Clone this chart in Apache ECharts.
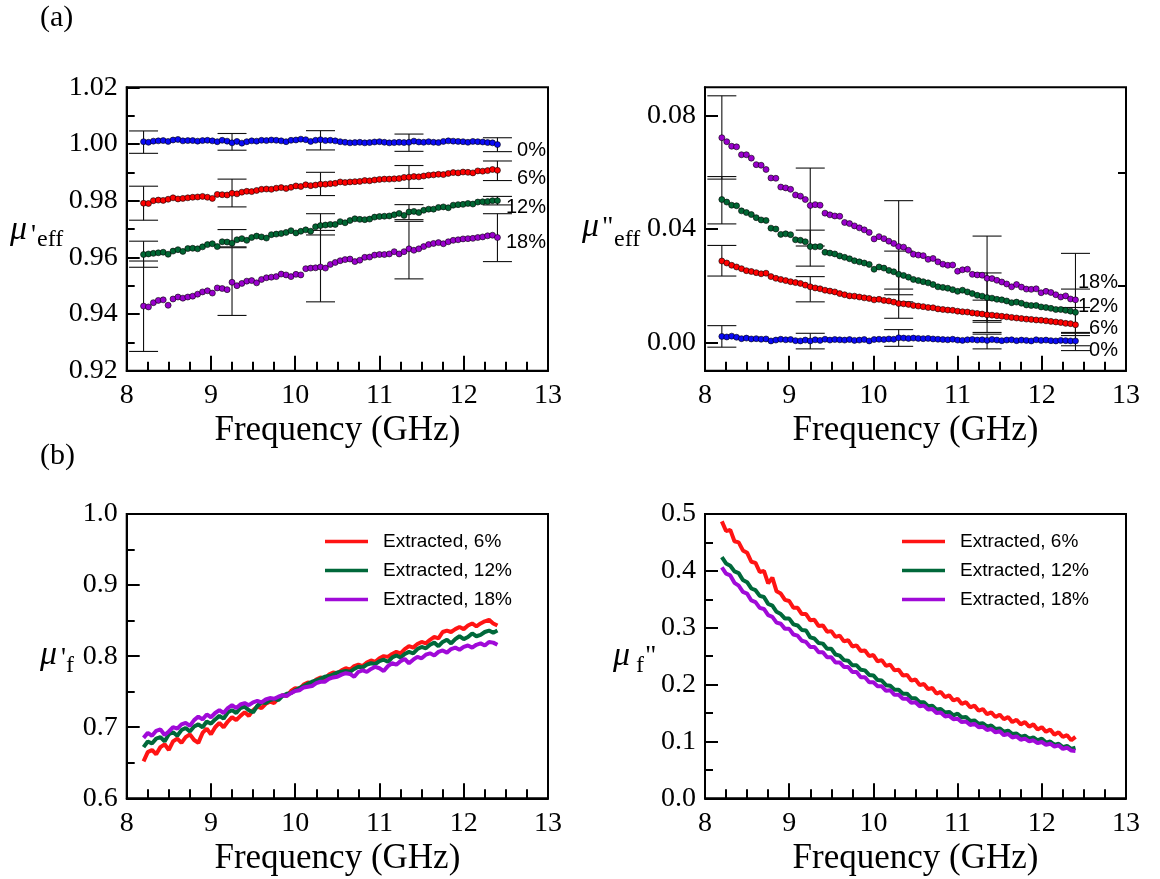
<!DOCTYPE html>
<html>
<head>
<meta charset="utf-8">
<script src="https://cdn.jsdelivr.net/npm/echarts@6/dist/echarts.min.js"></script>
<style>
html, body { margin: 0; padding: 0; background: #fff; }
#grafica { width: 1160px; height: 879px; }
</style>
</head>
<body>
<div id="grafica"></div>
<script>
// frecuencias de muestreo (GHz)
var freqTop = Array.from({length: 73}, function (_, i) { return 8.2 + i * 4.2 / 72 })
var freqBottom = Array.from({length: 85}, function (_, i) { return 8.2 + i * 0.05 })
var errFreq = [8.2, 9.25, 10.3, 11.35, 12.4]

// (a) izquierda: mu' efectiva
var muTL0 = [
  1.0008, 1.0006, 1.0010, 1.0011, 1.0012, 1.0009, 1.0014, 1.0016, 1.0011, 1.0012, 1.0012, 1.0010, 1.0012, 1.0013, 1.0011, 1.0008, 1.0013, 1.0010,
  1.0004, 1.0009, 1.0003, 1.0008, 1.0011, 1.0010, 1.0013, 1.0012, 1.0014, 1.0013, 1.0011, 1.0008, 1.0013, 1.0014, 1.0017, 1.0015, 1.0009, 1.0013,
  1.0015, 1.0012, 1.0013, 1.0011, 1.0008, 1.0006, 1.0004, 1.0005, 1.0006, 1.0004, 1.0005, 1.0007, 1.0008, 1.0006, 1.0004, 1.0005, 1.0006, 1.0005,
  1.0006, 1.0010, 1.0007, 1.0006, 1.0008, 1.0006, 1.0005, 1.0009, 1.0011, 1.0010, 1.0009, 1.0008, 1.0006, 1.0009, 1.0008, 1.0007, 1.0005, 1.0004, 0.9998]
var muTL6 = [
  0.9791, 0.9790, 0.9800, 0.9802, 0.9801, 0.9805, 0.9810, 0.9806, 0.9808, 0.9810, 0.9812, 0.9813, 0.9815, 0.9812, 0.9808, 0.9822, 0.9821, 0.9820,
  0.9826, 0.9824, 0.9830, 0.9833, 0.9832, 0.9836, 0.9840, 0.9841, 0.9840, 0.9844, 0.9846, 0.9843, 0.9847, 0.9852, 0.9850, 0.9856, 0.9853, 0.9855,
  0.9858, 0.9858, 0.9860, 0.9861, 0.9866, 0.9864, 0.9866, 0.9867, 0.9868, 0.9871, 0.9870, 0.9873, 0.9875, 0.9876, 0.9876, 0.9877, 0.9878, 0.9882,
  0.9883, 0.9885, 0.9884, 0.9887, 0.9890, 0.9891, 0.9893, 0.9892, 0.9896, 0.9899, 0.9898, 0.9901, 0.9900, 0.9898, 0.9905, 0.9904, 0.9906, 0.9910, 0.9907]
var muTL12 = [
  0.9610, 0.9612, 0.9614, 0.9616, 0.9618, 0.9611, 0.9622, 0.9627, 0.9621, 0.9631, 0.9632, 0.9630, 0.9637, 0.9645, 0.9648, 0.9638, 0.9655, 0.9654,
  0.9650, 0.9662, 0.9666, 0.9660, 0.9670, 0.9675, 0.9672, 0.9668, 0.9680, 0.9682, 0.9684, 0.9688, 0.9694, 0.9686, 0.9692, 0.9697, 0.9692, 0.9708,
  0.9712, 0.9714, 0.9716, 0.9716, 0.9726, 0.9722, 0.9730, 0.9736, 0.9734, 0.9733, 0.9735, 0.9742, 0.9744, 0.9745, 0.9746, 0.9750, 0.9755, 0.9748,
  0.9760, 0.9762, 0.9758, 0.9766, 0.9770, 0.9770, 0.9776, 0.9778, 0.9775, 0.9784, 0.9786, 0.9787, 0.9790, 0.9788, 0.9795, 0.9796, 0.9797, 0.9800, 0.9800]
var muTL18 = [
  0.9428, 0.9425, 0.9440, 0.9448, 0.9450, 0.9431, 0.9453, 0.9460, 0.9456, 0.9460, 0.9463, 0.9470, 0.9478, 0.9482, 0.9474, 0.9492, 0.9490, 0.9486,
  0.9512, 0.9500, 0.9508, 0.9516, 0.9518, 0.9510, 0.9522, 0.9528, 0.9530, 0.9532, 0.9541, 0.9538, 0.9532, 0.9540, 0.9538, 0.9560, 0.9562, 0.9563,
  0.9566, 0.9562, 0.9575, 0.9582, 0.9588, 0.9592, 0.9594, 0.9585, 0.9590, 0.9600, 0.9601, 0.9608, 0.9610, 0.9610, 0.9612, 0.9620, 0.9612, 0.9620,
  0.9630, 0.9625, 0.9630, 0.9638, 0.9645, 0.9649, 0.9652, 0.9648, 0.9655, 0.9660, 0.9662, 0.9665, 0.9666, 0.9667, 0.9670, 0.9672, 0.9676, 0.9678, 0.9670]
// barras de error [bajo, alto] en errFreq
var errTL0 = [[0.9967, 1.0046], [0.9978, 1.0037], [0.9979, 1.0047], [0.9974, 1.0035], [0.9973, 1.0022]]
var errTL6 = [[0.9731, 0.9851], [0.9778, 0.9876], [0.9818, 0.9900], [0.9843, 0.9924], [0.9871, 0.9940]]
var errTL12 = [[0.9565, 0.9657], [0.9637, 0.9698], [0.9679, 0.9754], [0.9733, 0.9786], [0.9785, 0.9815]]
var errTL18 = [[0.9268, 0.9587], [0.9395, 0.9634], [0.9443, 0.9695], [0.9524, 0.9727], [0.9585, 0.9754]]

// (a) derecha: mu'' efectiva
var muTR0 = [0.0021, 0.0019, 0.0022, 0.0018, 0.0013, 0.0015, 0.0012, 0.0013, 0.0011, 0.0012,
  0.0005, 0.0008, 0.0011, 0.0009, 0.0010, 0.0006, 0.0005, 0.0008, 0.0005, 0.0009,
  0.0007, 0.0011, 0.0008, 0.0010, 0.0009, 0.0008, 0.0010, 0.0007, 0.0008, 0.0010,
  0.0005, 0.0010, 0.0011, 0.0010, 0.0012, 0.0011, 0.0016, 0.0015, 0.0014, 0.0015,
  0.0014, 0.0013, 0.0014, 0.0012, 0.0011, 0.0010, 0.0009, 0.0011, 0.0008, 0.0007,
  0.0009, 0.0010, 0.0008, 0.0009, 0.0007, 0.0010, 0.0008, 0.0006, 0.0008, 0.0009,
  0.0006, 0.0008, 0.0007, 0.0005, 0.0009, 0.0007, 0.0008, 0.0006, 0.0005, 0.0007,
  0.0006, 0.0005, 0.0005]
var muTR6 = [0.0287, 0.0280, 0.0272, 0.0266, 0.0260, 0.0253, 0.0250, 0.0246, 0.0242, 0.0244,
  0.0232, 0.0226, 0.0222, 0.0218, 0.0214, 0.0211, 0.0208, 0.0202, 0.0196, 0.0192,
  0.0189, 0.0184, 0.0181, 0.0178, 0.0172, 0.0168, 0.0164, 0.0163, 0.0160, 0.0157,
  0.0155, 0.0150, 0.0152, 0.0148, 0.0146, 0.0142, 0.0137, 0.0136, 0.0134, 0.0130,
  0.0128, 0.0126, 0.0123, 0.0122, 0.0118, 0.0116, 0.0114, 0.0113, 0.0110, 0.0108,
  0.0107, 0.0104, 0.0102, 0.0100, 0.0097, 0.0096, 0.0094, 0.0092, 0.0090, 0.0088,
  0.0086, 0.0084, 0.0082, 0.0081, 0.0079, 0.0078, 0.0076, 0.0074, 0.0072, 0.0070,
  0.0067, 0.0066, 0.0062]
var muTR12 = [0.0504, 0.0495, 0.0484, 0.0482, 0.0464, 0.0458, 0.0451, 0.0440, 0.0432, 0.0430,
  0.0403, 0.0400, 0.0381, 0.0383, 0.0380, 0.0362, 0.0360, 0.0355, 0.0338, 0.0337,
  0.0338, 0.0318, 0.0315, 0.0312, 0.0305, 0.0300, 0.0295, 0.0288, 0.0284, 0.0280,
  0.0275, 0.0258, 0.0266, 0.0262, 0.0254, 0.0249, 0.0240, 0.0236, 0.0230, 0.0222,
  0.0218, 0.0214, 0.0210, 0.0204, 0.0196, 0.0194, 0.0191, 0.0186, 0.0180, 0.0184,
  0.0178, 0.0172, 0.0166, 0.0163, 0.0158, 0.0156, 0.0152, 0.0150, 0.0146, 0.0140,
  0.0142, 0.0138, 0.0132, 0.0130, 0.0130, 0.0125, 0.0123, 0.0120, 0.0116, 0.0116,
  0.0113, 0.0110, 0.0106]
var muTR18 = [0.0722, 0.0708, 0.0692, 0.0690, 0.0662, 0.0662, 0.0650, 0.0627, 0.0625, 0.0610,
  0.0580, 0.0579, 0.0548, 0.0545, 0.0540, 0.0520, 0.0516, 0.0504, 0.0483, 0.0486,
  0.0484, 0.0456, 0.0450, 0.0446, 0.0445, 0.0423, 0.0419, 0.0411, 0.0404, 0.0397,
  0.0388, 0.0365, 0.0373, 0.0366, 0.0357, 0.0349, 0.0338, 0.0336, 0.0325, 0.0311,
  0.0308, 0.0306, 0.0293, 0.0296, 0.0284, 0.0276, 0.0272, 0.0273, 0.0251, 0.0256,
  0.0258, 0.0240, 0.0238, 0.0237, 0.0226, 0.0225, 0.0219, 0.0213, 0.0206, 0.0196,
  0.0204, 0.0195, 0.0188, 0.0187, 0.0189, 0.0175, 0.0180, 0.0176, 0.0168, 0.0160,
  0.0164, 0.0153, 0.0150]
var errTR0 = [[-0.0017, 0.0059], [-0.0023, 0.0032], [-0.0014, 0.0045], [-0.0023, 0.0029], [-0.0029, 0.0032]]
var errTR6 = [[0.0234, 0.0342], [0.0143, 0.0232], [0.0085, 0.0188], [0.0035, 0.0149], [0.0024, 0.0123]]
var errTR12 = [[0.0418, 0.0585], [0.0269, 0.0396], [0.0143, 0.0322], [0.0071, 0.0245], [0.0035, 0.0188]]
var errTR18 = [[0.0576, 0.0870], [0.0340, 0.0615], [0.0168, 0.0500], [0.0077, 0.0375], [-0.0012, 0.0314]]

// (b) izquierda: mu' extraida
var muFL6 = [0.652, 0.665, 0.668, 0.662, 0.672, 0.676, 0.668, 0.680, 0.684, 0.678,
  0.686, 0.690, 0.682, 0.678, 0.692, 0.698, 0.690, 0.700, 0.706, 0.700,
  0.708, 0.714, 0.710, 0.716, 0.721, 0.716, 0.724, 0.729, 0.727, 0.733,
  0.736, 0.734, 0.741, 0.745, 0.744, 0.751, 0.755, 0.754, 0.760, 0.763,
  0.762, 0.767, 0.770, 0.768, 0.774, 0.777, 0.776, 0.780, 0.783, 0.781,
  0.786, 0.788, 0.786, 0.791, 0.794, 0.792, 0.797, 0.800, 0.799, 0.803,
  0.806, 0.804, 0.810, 0.814, 0.812, 0.817, 0.820, 0.818, 0.823, 0.827,
  0.825, 0.834, 0.836, 0.834, 0.838, 0.841, 0.838, 0.843, 0.846, 0.842,
  0.846, 0.849, 0.851, 0.846, 0.843]
var muFL12 = [0.672, 0.680, 0.677, 0.684, 0.686, 0.680, 0.690, 0.693, 0.688, 0.696,
  0.699, 0.694, 0.701, 0.704, 0.700, 0.708, 0.705, 0.711, 0.716, 0.712,
  0.721, 0.724, 0.720, 0.727, 0.729, 0.724, 0.721, 0.730, 0.735, 0.734,
  0.738, 0.740, 0.738, 0.744, 0.747, 0.748, 0.752, 0.755, 0.758, 0.761,
  0.764, 0.766, 0.768, 0.771, 0.772, 0.774, 0.777, 0.778, 0.779, 0.778,
  0.782, 0.785, 0.784, 0.788, 0.790, 0.789, 0.793, 0.795, 0.792, 0.798,
  0.801, 0.798, 0.803, 0.806, 0.804, 0.810, 0.813, 0.811, 0.816, 0.819,
  0.814, 0.820, 0.823, 0.818, 0.824, 0.828, 0.824, 0.827, 0.832, 0.828,
  0.830, 0.834, 0.836, 0.833, 0.836]
var muFL18 = [0.685, 0.692, 0.688, 0.695, 0.697, 0.689, 0.694, 0.700, 0.698, 0.704,
  0.706, 0.702, 0.710, 0.715, 0.711, 0.718, 0.714, 0.720, 0.724, 0.720,
  0.727, 0.731, 0.727, 0.732, 0.734, 0.731, 0.735, 0.737, 0.735, 0.739,
  0.741, 0.740, 0.743, 0.745, 0.744, 0.748, 0.751, 0.752, 0.756, 0.757,
  0.758, 0.762, 0.764, 0.764, 0.768, 0.770, 0.771, 0.774, 0.776, 0.775,
  0.771, 0.778, 0.780, 0.778, 0.782, 0.785, 0.783, 0.779, 0.786, 0.790,
  0.788, 0.793, 0.796, 0.790, 0.795, 0.799, 0.797, 0.802, 0.804, 0.801,
  0.806, 0.808, 0.805, 0.810, 0.812, 0.809, 0.813, 0.815, 0.812, 0.816,
  0.818, 0.815, 0.820, 0.819, 0.816]

// (b) derecha: mu'' extraida
var muFR6 = [0.487, 0.470, 0.472, 0.452, 0.450, 0.436, 0.432, 0.416, 0.414, 0.398,
  0.400, 0.378, 0.388, 0.364, 0.360, 0.349, 0.347, 0.335, 0.335, 0.324,
  0.324, 0.313, 0.314, 0.303, 0.304, 0.293, 0.294, 0.284, 0.286, 0.276,
  0.278, 0.267, 0.269, 0.259, 0.260, 0.250, 0.252, 0.241, 0.243, 0.233,
  0.235, 0.225, 0.226, 0.216, 0.217, 0.207, 0.209, 0.199, 0.201, 0.192,
  0.194, 0.184, 0.187, 0.178, 0.181, 0.172, 0.175, 0.166, 0.169, 0.160,
  0.163, 0.154, 0.157, 0.148, 0.151, 0.143, 0.147, 0.139, 0.143, 0.134,
  0.138, 0.130, 0.134, 0.126, 0.130, 0.121, 0.125, 0.117, 0.121, 0.112,
  0.116, 0.108, 0.111, 0.102, 0.108]
var muFR12 = [0.424, 0.413, 0.409, 0.399, 0.396, 0.384, 0.380, 0.369, 0.366, 0.356,
  0.354, 0.342, 0.339, 0.328, 0.324, 0.316, 0.316, 0.306, 0.304, 0.296,
  0.295, 0.283, 0.281, 0.273, 0.272, 0.263, 0.263, 0.253, 0.251, 0.243,
  0.242, 0.234, 0.234, 0.226, 0.225, 0.217, 0.216, 0.208, 0.207, 0.199,
  0.198, 0.191, 0.191, 0.184, 0.184, 0.176, 0.176, 0.169, 0.169, 0.162,
  0.163, 0.156, 0.157, 0.151, 0.152, 0.146, 0.149, 0.142, 0.143, 0.136,
  0.137, 0.131, 0.132, 0.126, 0.128, 0.122, 0.123, 0.117, 0.119, 0.113,
  0.114, 0.108, 0.110, 0.105, 0.107, 0.102, 0.105, 0.098, 0.100, 0.094,
  0.096, 0.090, 0.092, 0.087, 0.089]
var muFR18 = [0.406, 0.395, 0.392, 0.379, 0.374, 0.363, 0.360, 0.348, 0.345, 0.335,
  0.333, 0.322, 0.319, 0.309, 0.307, 0.298, 0.298, 0.288, 0.286, 0.277,
  0.275, 0.266, 0.266, 0.257, 0.257, 0.248, 0.248, 0.239, 0.239, 0.231,
  0.231, 0.222, 0.222, 0.213, 0.213, 0.204, 0.204, 0.197, 0.197, 0.189,
  0.190, 0.182, 0.182, 0.175, 0.175, 0.168, 0.169, 0.162, 0.163, 0.156,
  0.157, 0.150, 0.151, 0.144, 0.145, 0.139, 0.140, 0.134, 0.135, 0.129,
  0.131, 0.125, 0.126, 0.120, 0.122, 0.116, 0.118, 0.111, 0.113, 0.107,
  0.109, 0.103, 0.105, 0.100, 0.102, 0.097, 0.099, 0.094, 0.096, 0.091,
  0.093, 0.087, 0.089, 0.084, 0.083]

var colores = {c0: '#0a0af5', c6: '#ff0000', c12: '#006633', c18: '#9900cc'}
var coloresLinea = {c6: '#ff1414', c12: '#00683a', c18: '#a00ad8'}
var nombresLeyenda = ['Extracted, 6%', 'Extracted, 12%', 'Extracted, 18%']

var serif = 'Liberation Serif'
var sans = 'Liberation Sans'

function ejeX(g) {
  return {
    type: 'value', gridIndex: g, min: 8, max: 13, interval: 1,
    axisLine: {show: true, onZero: false, lineStyle: {color: '#000', width: 2}},
    axisTick: {show: true, inside: true, length: 15, lineStyle: {color: '#000', width: 2}},
    minorTick: {show: true, splitNumber: 4, length: 9, lineStyle: {color: '#000', width: 2}},
    splitLine: {show: false}, minorSplitLine: {show: false},
    axisLabel: {color: '#000', fontFamily: serif, fontSize: 28, margin: 11},
    name: 'Frequency (GHz)', nameLocation: 'middle', nameGap: 43,
    nameTextStyle: {color: '#000', fontFamily: serif, fontSize: 35}
  }
}

function ejeY(g, min, max, interval, dec) {
  return {
    type: 'value', gridIndex: g, min: min, max: max, interval: interval,
    axisLine: {show: true, onZero: false, lineStyle: {color: '#000', width: 2}},
    axisTick: {show: true, inside: true, length: 13, lineStyle: {color: '#000', width: 2}},
    minorTick: {show: true, splitNumber: 2, length: 8, lineStyle: {color: '#000', width: 2}},
    splitLine: {show: false}, minorSplitLine: {show: false},
    axisLabel: {color: '#000', fontFamily: serif, fontSize: 28, margin: 9,
      formatter: function (v) { return v.toFixed(dec) }}
  }
}

// eje y del panel superior derecho: min -0.01, marcas en 0, 0.04, 0.08
var ejeYTR = {
  type: 'value', gridIndex: 1, min: -0.01, max: 0.09,
  axisLine: {show: true, onZero: false, lineStyle: {color: '#000', width: 2}},
  axisTick: {show: true, inside: true, length: 13, customValues: [0, 0.04, 0.08], lineStyle: {color: '#000', width: 2}},
  splitLine: {show: false},
  axisLabel: {color: '#000', fontFamily: serif, fontSize: 28, margin: 9, customValues: [0, 0.04, 0.08],
    formatter: function (v) { return v.toFixed(2) }}
}
var ejeYTRmenor = {
  type: 'value', gridIndex: 1, min: -0.01, max: 0.09,
  axisLine: {show: false, onZero: false},
  axisTick: {show: true, inside: true, length: 8, customValues: [0.02, 0.06], lineStyle: {color: '#000', width: 2}},
  axisLabel: {show: false},
  splitLine: {show: false}
}

function pares(xs, ys) {
  return ys.map(function (y, i) { return [xs[i], y] })
}

function puntos(nombre, xs, ys, color, xi, yi) {
  return {
    name: nombre, type: 'scatter', xAxisIndex: xi, yAxisIndex: yi,
    data: pares(xs, ys), symbol: 'circle', symbolSize: 6, z: 3,
    itemStyle: {color: color, borderColor: '#000', borderWidth: 0.6, opacity: 1}
  }
}

function barrasError(errs, xi, yi) {
  return {
    type: 'custom', xAxisIndex: xi, yAxisIndex: yi, z: 2, silent: true,
    data: errs.map(function (e, k) { return [errFreq[k], e[0], e[1]] }),
    encode: {x: 0, y: [1, 2]},
    renderItem: function (params, api) {
      var x = api.value(0)
      var pLo = api.coord([x, api.value(1)])
      var pHi = api.coord([x, api.value(2)])
      var w = 14.5
      var st = {stroke: '#111', lineWidth: 1.1}
      return {
        type: 'group',
        children: [
          {type: 'line', shape: {x1: pLo[0], y1: pLo[1], x2: pHi[0], y2: pHi[1]}, style: st},
          {type: 'line', shape: {x1: pLo[0] - w, y1: pLo[1], x2: pLo[0] + w, y2: pLo[1]}, style: st},
          {type: 'line', shape: {x1: pHi[0] - w, y1: pHi[1], x2: pHi[0] + w, y2: pHi[1]}, style: st}
        ]
      }
    }
  }
}

function linea(nombre, xs, ys, color, xi, yi, ancho) {
  return {
    name: nombre, type: 'line', xAxisIndex: xi, yAxisIndex: yi,
    data: pares(xs, ys), showSymbol: false, symbol: 'none', smooth: false,
    lineStyle: {color: color, width: ancho}, itemStyle: {color: color}, z: 3
  }
}

function texto(x, y, t, size, fam, extra) {
  var st = {text: t, x: x, y: y, fontSize: size, fontFamily: fam, fill: '#000'}
  if (extra) { Object.keys(extra).forEach(function (k) { st[k] = extra[k] }) }
  return {type: 'text', z: 10, style: st}
}

function leyenda(izq) {
  return {
    data: nombresLeyenda, orient: 'vertical', left: izq, top: 532, padding: 0,
    icon: 'rect', itemWidth: 43, itemHeight: 3.5, itemGap: 10,
    textStyle: {color: '#000', fontFamily: sans, fontSize: 19, padding: [0, 0, 0, 10]},
    selectedMode: false
  }
}

var myChart = echarts.init(document.getElementById('grafica'), null, {renderer: 'canvas'})

var option = {
  backgroundColor: '#fff',
  animation: false,
  grid: [
    {left: 126.7, top: 87.3, width: 421.3, height: 283.4, show: true, borderColor: '#000', borderWidth: 2},
    {left: 705, top: 87.3, width: 421, height: 283.4, show: true, borderColor: '#000', borderWidth: 2},
    {left: 126.7, top: 514, width: 421.3, height: 284.3, show: true, borderColor: '#000', borderWidth: 2},
    {left: 705, top: 514, width: 421, height: 284.3, show: true, borderColor: '#000', borderWidth: 2}
  ],
  xAxis: [ejeX(0), ejeX(1), ejeX(2), ejeX(3)],
  yAxis: [
    ejeY(0, 0.92, 1.02, 0.02, 2),
    ejeYTR,
    ejeYTRmenor,
    ejeY(2, 0.6, 1.0, 0.1, 1),
    ejeY(3, 0.0, 0.5, 0.1, 1)
  ],
  legend: [leyenda(325), leyenda(902)],
  series: [
    barrasError(errTL0, 0, 0), barrasError(errTL6, 0, 0), barrasError(errTL12, 0, 0), barrasError(errTL18, 0, 0),
    puntos('0%', freqTop, muTL0, colores.c0, 0, 0),
    puntos('6%', freqTop, muTL6, colores.c6, 0, 0),
    puntos('12%', freqTop, muTL12, colores.c12, 0, 0),
    puntos('18%', freqTop, muTL18, colores.c18, 0, 0),

    barrasError(errTR0, 1, 1), barrasError(errTR6, 1, 1), barrasError(errTR12, 1, 1), barrasError(errTR18, 1, 1),
    puntos('0% ', freqTop, muTR0, colores.c0, 1, 1),
    puntos('6% ', freqTop, muTR6, colores.c6, 1, 1),
    puntos('12% ', freqTop, muTR12, colores.c12, 1, 1),
    puntos('18% ', freqTop, muTR18, colores.c18, 1, 1),

    linea(nombresLeyenda[0], freqBottom, muFL6, coloresLinea.c6, 2, 3, 4),
    linea(nombresLeyenda[1], freqBottom, muFL12, coloresLinea.c12, 2, 3, 4),
    linea(nombresLeyenda[2], freqBottom, muFL18, coloresLinea.c18, 2, 3, 4),

    linea(nombresLeyenda[0], freqBottom, muFR6, coloresLinea.c6, 3, 4, 4),
    linea(nombresLeyenda[1], freqBottom, muFR12, coloresLinea.c12, 3, 4, 4),
    linea(nombresLeyenda[2], freqBottom, muFR18, coloresLinea.c18, 3, 4, 4)
  ],
  graphic: [
    texto(40, 3, '(a)', 30, serif),
    texto(40, 441, '(b)', 30, serif),
    // nombres de ejes y
    texto(10, 213, 'μ', 34, serif, {fontStyle: 'italic'}),
    texto(31, 222, '\'', 28, serif),
    texto(37, 228, 'eff', 24, serif),
    texto(582, 210, 'μ', 34, serif, {fontStyle: 'italic'}),
    texto(602, 214, '"', 28, serif),
    texto(614, 228, 'eff', 24, serif),
    texto(40, 638, 'μ', 34, serif, {fontStyle: 'italic'}),
    texto(61, 645, '\'', 28, serif),
    texto(66, 654, 'f', 24, serif),
    texto(613, 639, 'μ', 34, serif, {fontStyle: 'italic'}),
    texto(636, 654, 'f', 24, serif),
    texto(645, 643, '"', 28, serif),
    // etiquetas de porcentaje
    texto(546, 150, '0%', 20, sans, {align: 'right', verticalAlign: 'middle'}),
    texto(546, 178, '6%', 20, sans, {align: 'right', verticalAlign: 'middle'}),
    texto(546, 207, '12%', 20, sans, {align: 'right', verticalAlign: 'middle'}),
    texto(546, 242, '18%', 20, sans, {align: 'right', verticalAlign: 'middle'}),
    texto(1118, 282, '18%', 20, sans, {align: 'right', verticalAlign: 'middle'}),
    texto(1118, 306, '12%', 20, sans, {align: 'right', verticalAlign: 'middle'}),
    texto(1118, 328, '6%', 20, sans, {align: 'right', verticalAlign: 'middle'}),
    texto(1118, 350, '0%', 20, sans, {align: 'right', verticalAlign: 'middle'})
  ]
}

myChart.setOption(option)
</script>
</body>
</html>
